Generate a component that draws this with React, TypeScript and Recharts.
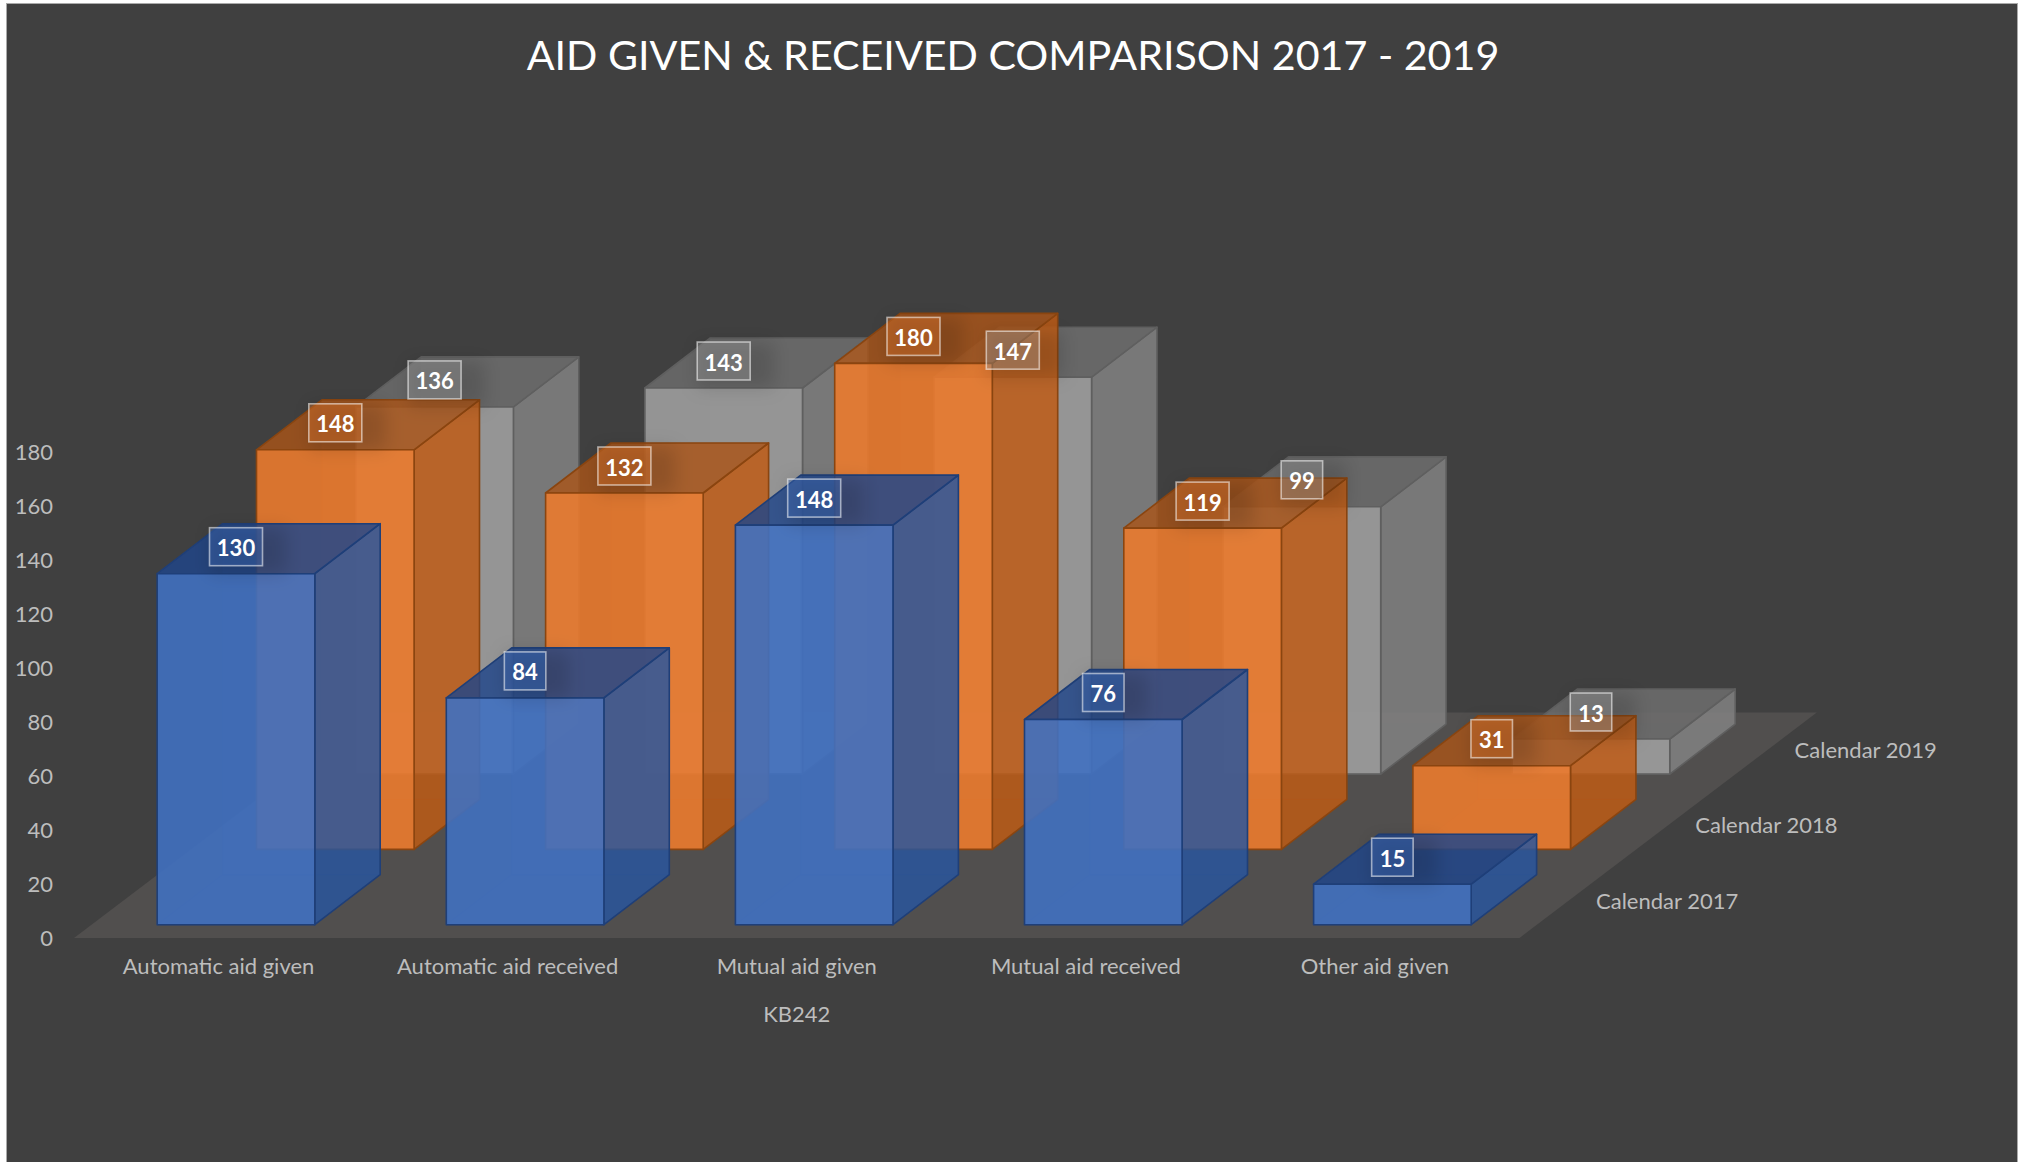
import { BarChart, Bar, XAxis, YAxis, LabelList, ReferenceArea } from "recharts";

const categories = [
  "Automatic aid given",
  "Automatic aid received",
  "Mutual aid given",
  "Mutual aid received",
  "Other aid given",
];
const values2017 = [130, 84, 148, 76, 15];
const values2018 = [148, 132, 180, 119, 31];
const values2019 = [136, 143, 147, 99, 13];
const yTicks = [0, 20, 40, 60, 80, 100, 120, 140, 160, 180];
const seriesNames = ["Calendar 2017", "Calendar 2018", "Calendar 2019"];

const data = categories.map((name, i) => ({
  name,
  y2017: values2017[i],
  y2018: values2018[i],
  y2019: values2019[i],
}));

// fake 3d: how far one series row sits behind the previous one, and how deep a box is
const ROW_DX = 99.3;
const ROW_DY = 75.3;
const FRONT_DX = 17.2;
const FRONT_DY = 13.3;
const BOX_DX = 65.4;
const BOX_DY = 50;
const FLOOR_VALUE = 83.5;

const palette = [
  { front: "#4070C0", side: "#28569E", top: "#20458A", edge: "#1F3F78", tag: "#4472C4" },
  { front: "#EA7A2D", side: "#BE5A14", top: "#A85418", edge: "#8A4510", tag: "#ED7D31" },
  { front: "#9D9D9D", side: "#828282", top: "#6E6E6E", edge: "#5F5F5F", tag: "#A5A5A5" },
];

const rowShift = (row: number) => ({
  dx: FRONT_DX + ROW_DX * row,
  dy: -FRONT_DY - ROW_DY * row,
});

const pts = (list: number[][]) => list.map((p) => p.join(",")).join(" ");

function boxShape(row: number) {
  const c = palette[row];
  const { dx, dy } = rowShift(row);
  return (props: any) => {
    const { x, y, width, height } = props;
    const l = x + dx;
    const r = l + width;
    const t = y + dy;
    const b = t + height;
    const stroke = { stroke: c.edge, strokeWidth: 1.6, strokeLinejoin: "round" as const };
    return (
      <g>
        {/* inner walls, just visible through the front */}
        <polygon
          points={pts([[l + BOX_DX, t - BOX_DY], [r + BOX_DX, t - BOX_DY], [r + BOX_DX, b - BOX_DY], [l + BOX_DX, b - BOX_DY]])}
          fill={c.front}
          fillOpacity={0.1}
          stroke={c.edge}
          strokeOpacity={0.15}
        />
        <polygon
          points={pts([[l, b], [r, b], [r + BOX_DX, b - BOX_DY], [l + BOX_DX, b - BOX_DY]])}
          fill={c.front}
          fillOpacity={0.08}
          stroke={c.edge}
          strokeOpacity={0.15}
        />
        <polygon
          points={pts([[r, t], [r + BOX_DX, t - BOX_DY], [r + BOX_DX, b - BOX_DY], [r, b]])}
          fill={c.side}
          fillOpacity={0.82}
          {...stroke}
        />
        <polygon
          points={pts([[l, t], [l + BOX_DX, t - BOX_DY], [r + BOX_DX, t - BOX_DY], [r, t]])}
          fill={c.top}
          fillOpacity={0.82}
          {...stroke}
        />
        <rect x={l} y={t} width={width} height={height} fill={c.front} fillOpacity={0.9} {...stroke} />
      </g>
    );
  };
}

function tagLabel(row: number) {
  const c = palette[row];
  const { dx, dy } = rowShift(row);
  return (props: any) => {
    const { x, y, width, value } = props;
    const cx = x + dx + width / 2;
    const cy = y + dy - 27;
    const w = String(value).length === 3 ? 53 : 41.5;
    return (
      <g>
        <rect x={cx - w / 2} y={cy - 19} width={w + 24} height={46} fill="#000" fillOpacity={0.14} filter="url(#tagBlur)" />
        <rect
          x={cx - w / 2}
          y={cy - 19}
          width={w}
          height={38}
          fill={c.tag}
          fillOpacity={0.35}
          stroke="#ffffff"
          strokeOpacity={0.55}
          strokeWidth={1.6}
        />
        <text
          x={cx}
          y={cy + 1}
          textAnchor="middle"
          dominantBaseline="central"
          fontFamily="Lato"
          fontWeight={700}
          fontSize={22}
          fill="#ffffff"
        >
          {value}
        </text>
      </g>
    );
  };
}

function FloorShape(props: any) {
  const { x, y, width, height } = props;
  const skew = height * (ROW_DX / ROW_DY);
  const bottom = y + height;
  const right = x + width;
  return (
    <g>
      <polygon
        points={pts([[x, bottom], [right, bottom], [right + skew, y], [x + skew, y]])}
        fill="#514F4E"
      />
      {seriesNames.map((name, row) => (
        <text
          key={name}
          x={right + 147.6 + ROW_DX * row}
          y={bottom - 38 - ROW_DY * row}
          textAnchor="middle"
          dominantBaseline="central"
          fontFamily="Lato"
          fontSize={22}
          fill="#BDBDBD"
        >
          {name}
        </text>
      ))}
    </g>
  );
}

const axisTick = { fill: "#BDBDBD", fontFamily: "Lato", fontSize: 22 };

export default function App() {
  return (
    <div style={{ position: "fixed", left: 0, top: 0, width: 2026, height: 1162, background: "#fff" }}>
      <div
        style={{
          position: "absolute",
          left: 7,
          top: 4,
          width: 2010,
          height: 1158,
          background: "#404040",
          boxShadow: "0 0 0 1px #aaa",
        }}
      />
      <div
        style={{
          position: "absolute",
          left: 0,
          top: 26,
          width: 2026,
          textAlign: "center",
          fontFamily: "Lato",
          fontSize: 41.2,
          lineHeight: "56px",
          color: "#fff",
        }}
      >
        AID GIVEN &amp; RECEIVED COMPARISON 2017 - 2019
      </div>
      <div style={{ position: "absolute", left: 0, top: 0 }}>
        <svg width={0} height={0} style={{ position: "absolute" }}>
          <defs>
            <filter id="tagBlur" x="-50%" y="-50%" width="200%" height="200%">
              <feGaussianBlur stdDeviation="9" />
            </filter>
          </defs>
        </svg>
        <BarChart
          width={2026}
          height={1162}
          data={data}
          barSize={157.6}
          margin={{ top: 452, right: 506.5, bottom: 124, left: 0 }}
        >
          <YAxis
            type="number"
            domain={[0, 180]}
            ticks={yTicks}
            width={74}
            axisLine={false}
            tickLine={false}
            tickMargin={15}
            tick={axisTick}
          />
          <XAxis
            xAxisId="a"
            dataKey="name"
            axisLine={false}
            tickLine={false}
            interval={0}
            tick={axisTick}
            tickMargin={14.5}
            height={100}
            label={{ value: "KB242", position: "insideTop", dy: 63, fill: "#BDBDBD", fontFamily: "Lato", fontSize: 22 }}
          />
          <XAxis xAxisId="b" dataKey="name" hide />
          <XAxis xAxisId="c" dataKey="name" hide />
          <ReferenceArea xAxisId="a" y1={0} y2={FLOOR_VALUE} ifOverflow="visible" shape={FloorShape} />
          <Bar xAxisId="c" dataKey="y2019" isAnimationActive={false} shape={boxShape(2)}>
            <LabelList dataKey="y2019" content={tagLabel(2)} />
          </Bar>
          <Bar xAxisId="b" dataKey="y2018" isAnimationActive={false} shape={boxShape(1)}>
            <LabelList dataKey="y2018" content={tagLabel(1)} />
          </Bar>
          <Bar xAxisId="a" dataKey="y2017" isAnimationActive={false} shape={boxShape(0)}>
            <LabelList dataKey="y2017" content={tagLabel(0)} />
          </Bar>
        </BarChart>
      </div>
    </div>
  );
}
